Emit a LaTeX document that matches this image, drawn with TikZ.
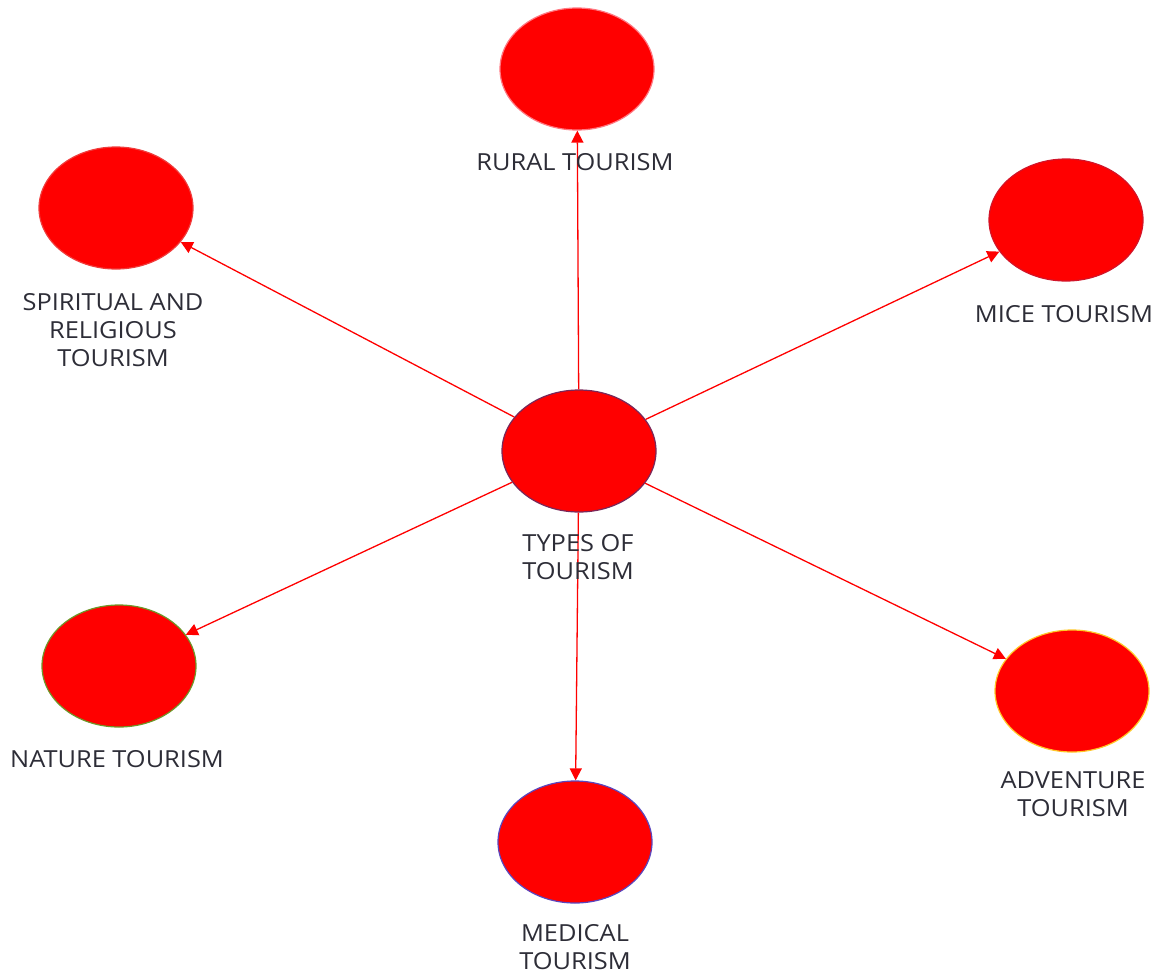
\documentclass[tikz,border=0pt]{standalone}
\usepackage{fontspec}
\setmainfont[FakeStretch=1.08]{Open Sans}
\usetikzlibrary{shapes.geometric,arrows.meta}
\definecolor{txt}{RGB}{45,45,55}
\definecolor{bTypes}{RGB}{120,40,90}
\definecolor{bRural}{RGB}{255,120,130}
\definecolor{bSpirit}{RGB}{240,60,60}
\definecolor{bMice}{RGB}{210,20,40}
\definecolor{bNature}{RGB}{110,150,40}
\definecolor{bMedical}{RGB}{90,70,190}
\definecolor{bAdv}{RGB}{255,200,40}
\begin{document}
\begin{tikzpicture}[x=1pt,y=-1pt,
  circ/.style={ellipse, fill=red, draw=#1, line width=1.2pt, minimum width=154pt, minimum height=122pt, inner sep=0pt},
  lbl/.style={text=txt, font=\fontsize{23.5}{28}\selectfont, align=center, inner sep=0pt},
  conn/.style={draw=red, line width=1.3pt, -{Triangle[length=12pt,width=12pt]}}]
\useasboundingbox (0,0) rectangle (1159,975);
\node[circ=bTypes] (types) at (579,451) {};
\node[circ=bRural] (rural) at (577,69) {};
\node[circ=bSpirit] (spirit) at (116,208) {};
\node[circ=bMice] (mice) at (1066,220) {};
\node[circ=bNature] (nature) at (119,666) {};
\node[circ=bMedical] (medical) at (575,842) {};
\node[circ=bAdv] (adv) at (1072,691) {};

\draw[conn] (types) -- (rural);
\draw[conn] (types) -- (spirit);
\draw[conn] (types) -- (mice);
\draw[conn] (types) -- (nature);
\draw[conn] (types) -- (medical);
\draw[conn] (types) -- (adv);

\node[lbl] (typesl) at (578,557) {TYPES OF\\TOURISM};
\node[lbl] (rurall) at (575,162) {RURAL TOURISM};
\node[lbl] (spiritl) at (113,330) {SPIRITUAL AND\\RELIGIOUS\\TOURISM};
\node[lbl] (micel) at (1064,314) {MICE TOURISM};
\node[lbl] (naturel) at (117,759) {NATURE TOURISM};
\node[lbl] (medicall) at (575,947) {MEDICAL\\TOURISM};
\node[lbl] (advl) at (1073,794) {ADVENTURE\\TOURISM};
\end{tikzpicture}
\end{document}
